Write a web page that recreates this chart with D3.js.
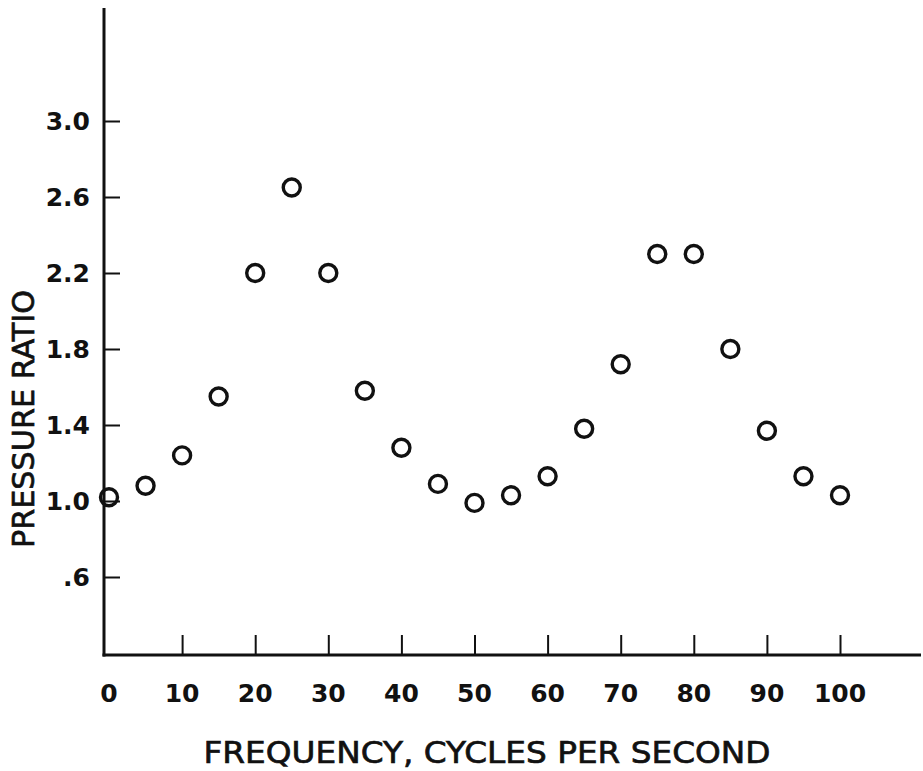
<!DOCTYPE html>
<html>
<head>
<meta charset="utf-8">
<script src="https://cdn.jsdelivr.net/npm/d3@7"></script>
<style>
  html, body { margin: 0; padding: 0; background: #fff; }
  svg { display: block; }
  text { font-family: "DejaVu Sans", sans-serif; fill: #111; }
  .tick-label { font-weight: bold; }
  .title { font-weight: normal; stroke: #111; stroke-width: 0.7px; }
</style>
</head>
<body>
<svg id="chart" width="923" height="771"></svg>
<script>
// ---- data ----
const frequency = [0, 5, 10, 15, 20, 25, 30, 35, 40, 45, 50, 55, 60, 65, 70, 75, 80, 85, 90, 95, 100];
const pressureRatio = [1.02, 1.08, 1.24, 1.55, 2.20, 2.65, 2.20, 1.58, 1.28, 1.09, 0.99, 1.03, 1.13, 1.38, 1.72, 2.30, 2.30, 1.80, 1.37, 1.13, 1.03];
const xTicks = [0, 10, 20, 30, 40, 50, 60, 70, 80, 90, 100];
const xTickLabels = ["0", "10", "20", "30", "40", "50", "60", "70", "80", "90", "100"];
const yTicks = [0.6, 1.0, 1.4, 1.8, 2.2, 2.6, 3.0];
const yTickLabels = [".6", "1.0", "1.4", "1.8", "2.2", "2.6", "3.0"];
const xTitle = "FREQUENCY, CYCLES PER SECOND";
const yTitle = "PRESSURE RATIO";

// ---- layout ----
const svg = d3.select("#chart");
const axisX = 104, axisY = 655, topY = 8, rightX = 921;

const x = d3.scaleLinear().domain([0, 100]).range([109, 840]);
const y = d3.scaleLinear().domain([1.0, 3.0]).range([501, 121]);

const ink = "#111";

// axis lines
svg.append("line").attr("x1", axisX).attr("x2", axisX).attr("y1", topY).attr("y2", axisY + 1.5)
  .attr("stroke", ink).attr("stroke-width", 3);
svg.append("line").attr("x1", axisX - 1.5).attr("x2", rightX).attr("y1", axisY).attr("y2", axisY)
  .attr("stroke", ink).attr("stroke-width", 3);

// y ticks (pointing inward)
const yAxis = d3.axisRight(y).tickValues(yTicks).tickSize(16).tickFormat(() => "");
const gy = svg.append("g").attr("transform", `translate(${axisX},0)`).call(yAxis);
gy.select(".domain").remove();
gy.selectAll(".tick line").attr("stroke", ink).attr("stroke-width", 2);

svg.append("g").selectAll("text").data(yTicks).join("text")
  .attr("class", "tick-label")
  .attr("x", 90).attr("y", d => y(d))
  .attr("dy", "0.36em")
  .attr("text-anchor", "end")
  .attr("font-size", 25)
  .text((d, i) => yTickLabels[i]);

// x ticks (pointing up)
const xAxis = d3.axisTop(x).tickValues(xTicks.filter(d => d > 0)).tickSize(20).tickFormat(() => "");
const gx = svg.append("g").attr("transform", `translate(0,${axisY})`).call(xAxis);
gx.select(".domain").remove();
gx.selectAll(".tick line").attr("stroke", ink).attr("stroke-width", 2);

svg.append("g").selectAll("text").data(xTicks).join("text")
  .attr("class", "tick-label")
  .attr("x", d => x(d)).attr("y", 702)
  .attr("text-anchor", "middle")
  .attr("font-size", 25)
  .text((d, i) => xTickLabels[i]);

// titles
svg.append("text").attr("class", "title")
  .attr("x", 487).attr("y", 763).attr("text-anchor", "middle")
  .attr("font-size", 31)
  .attr("textLength", 567).attr("lengthAdjust", "spacingAndGlyphs")
  .text(xTitle);

svg.append("text").attr("class", "title")
  .attr("transform", "translate(34,419) rotate(-90)")
  .attr("text-anchor", "middle")
  .attr("font-size", 31)
  .attr("textLength", 258).attr("lengthAdjust", "spacingAndGlyphs")
  .text(yTitle);

// points
svg.append("g").selectAll("circle").data(frequency).join("circle")
  .attr("cx", d => x(d))
  .attr("cy", (d, i) => y(pressureRatio[i]))
  .attr("r", 8.5)
  .attr("fill", "none")
  .attr("stroke", ink)
  .attr("stroke-width", 3.4);
</script>
</body>
</html>
